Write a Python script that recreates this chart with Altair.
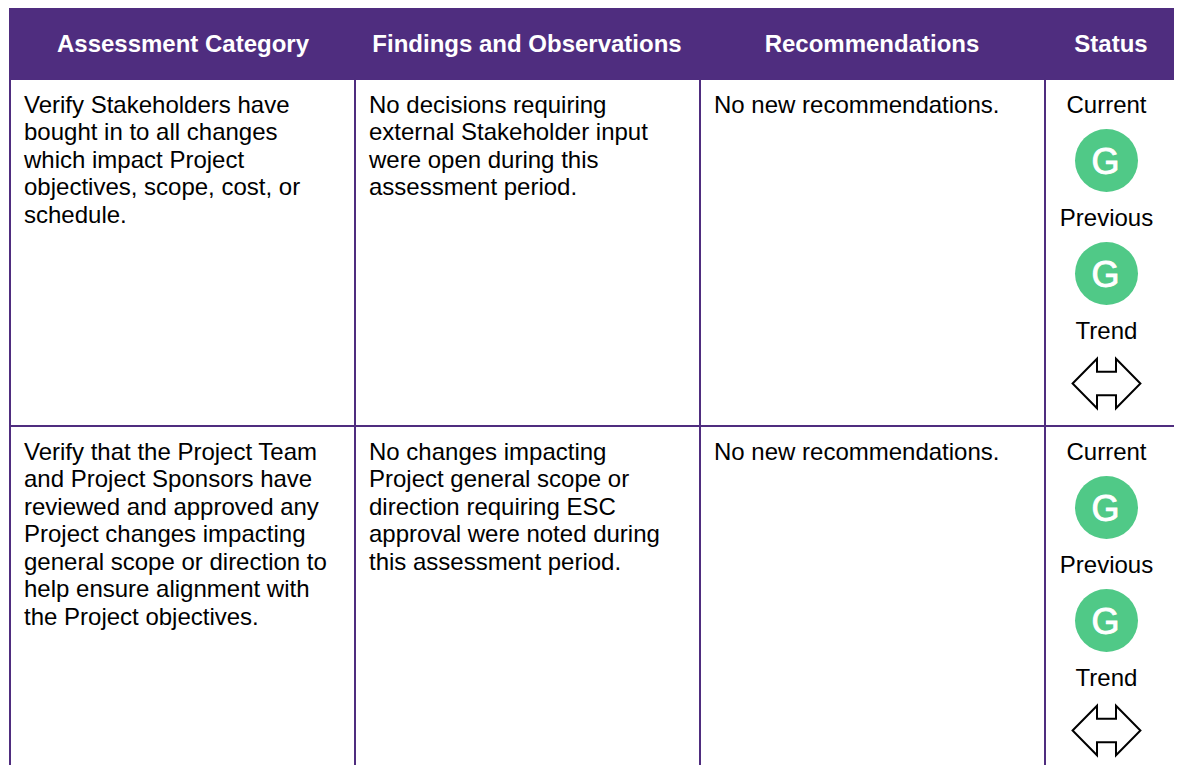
import altair as alt
import pandas as pd

HEADERS = ["Assessment Category", "Findings and Observations", "Recommendations", "Status"]
ROW1 = [
    ["Verify Stakeholders have", "bought in to all changes", "which impact Project", "objectives, scope, cost, or", "schedule."],
    ["No decisions requiring", "external Stakeholder input", "were open during this", "assessment period."],
    ["No new recommendations."],
]
ROW2 = [
    ["Verify that the Project Team", "and Project Sponsors have", "reviewed and approved any", "Project changes impacting", "general scope or direction to", "help ensure alignment with", "the Project objectives."],
    ["No changes impacting", "Project general scope or", "direction requiring ESC", "approval were noted during", "this assessment period."],
    ["No new recommendations."],
]
STATUS_LABELS = ["Current", "Previous", "Trend"]
RATINGS = ["G", "G"]

# layout (reference pixel coordinates)
PURPLE = "#4F2D7F"
GREEN = "#50C987"
FONT = "Liberation Sans"
LEFT, RIGHT, TOP, BOTTOM = 8, 1174, 8, 765
COL_EDGES = [10, 355, 700, 1045, 1177]
COL_TEXT = [24, 369, 714]
HEAD_X = [183, 527, 872, 1111]
STATUS_X = 1106.5
HEAD_BOTTOM, ROW_LINE = 80, 426
ROW_TOPS = [105.5, 452.5]
LINE_H = 27.5
LABEL_STEP = 113
CIRCLE_OFF = [55, 168]
ARROW_OFF = 278

ARROW = "M-1,0L-0.28,-0.73L-0.28,-0.35L0.28,-0.35L0.28,-0.73L1,0L0.28,0.73L0.28,0.35L-0.28,0.35L-0.28,0.73Z"

x_s = alt.Scale(domain=[LEFT, RIGHT], range=[0, RIGHT - LEFT], zero=False, nice=False, padding=0)
y_s = alt.Scale(domain=[TOP, BOTTOM], range=[0, BOTTOM - TOP], zero=False, nice=False, padding=0)
X = lambda f="x": alt.X(f"{f}:Q", scale=x_s, axis=None)
Y = lambda f="y": alt.Y(f"{f}:Q", scale=y_s, axis=None)

header_bg = alt.Chart(pd.DataFrame([{"x": 9, "x2": 1178, "y": TOP, "y2": HEAD_BOTTOM}])).mark_rect(color=PURPLE).encode(
    x=X(), x2="x2:Q", y=Y(), y2="y2:Q")

vlines = alt.Chart(pd.DataFrame([{"x": e, "y": HEAD_BOTTOM, "y2": BOTTOM} for e in COL_EDGES])).mark_rule(color=PURPLE, strokeWidth=2).encode(
    x=X(), y=Y(), y2="y2:Q")
hline = alt.Chart(pd.DataFrame([{"x": 9, "x2": 1178, "y": ROW_LINE}])).mark_rule(color=PURPLE, strokeWidth=2).encode(
    x=X(), x2="x2:Q", y=Y())

header_text = alt.Chart(pd.DataFrame({"t": HEADERS, "x": HEAD_X, "y": 45})).mark_text(
    font=FONT, fontSize=24, fontWeight="bold", color="white", align="center", baseline="middle").encode(
    x=X(), y=Y(), text="t:N")

body = []
for top, row in zip(ROW_TOPS, [ROW1, ROW2]):
    for cx, lines in zip(COL_TEXT, row):
        for i, line in enumerate(lines):
            body.append({"t": line, "x": cx, "y": top + i * LINE_H})
body_text = alt.Chart(pd.DataFrame(body)).mark_text(
    font=FONT, fontSize=24, color="black", align="left", baseline="middle").encode(
    x=X(), y=Y(), text="t:N")

labels = [{"t": s, "x": STATUS_X, "y": top + i * LABEL_STEP}
          for top in ROW_TOPS for i, s in enumerate(STATUS_LABELS)]
status_text = alt.Chart(pd.DataFrame(labels)).mark_text(
    font=FONT, fontSize=24, color="black", align="center", baseline="middle").encode(
    x=X(), y=Y(), text="t:N")

circ = [{"t": r, "x": STATUS_X, "y": top + off}
        for top, r in zip(ROW_TOPS, RATINGS) for off in CIRCLE_OFF]
circles = alt.Chart(pd.DataFrame(circ)).mark_point(
    shape="circle", filled=True, size=3969, color=GREEN, opacity=1).encode(x=X(), y=Y())
g_text = alt.Chart(pd.DataFrame(circ)).mark_text(
    font=FONT, fontSize=36, color="white", stroke="white", strokeWidth=0.9, dy=2, dx=-1,
    align="center", baseline="middle").encode(
    x=X(), y=Y(), text="t:N")

arrows = alt.Chart(pd.DataFrame([{"x": STATUS_X, "y": top + ARROW_OFF} for top in ROW_TOPS])).mark_point(
    shape=ARROW, size=4600, filled=False, stroke="black", strokeWidth=2, opacity=1).encode(x=X(), y=Y())

chart = alt.layer(header_bg, vlines, hline, header_text, body_text, status_text, circles, g_text, arrows).properties(
    width=RIGHT - LEFT, height=BOTTOM - TOP, padding=0,
    autosize=alt.AutoSizeParams(type="none"), background="white",
).configure_view(stroke=None)

chart.save("out.html", embed_options={"renderer": "svg", "actions": False})
